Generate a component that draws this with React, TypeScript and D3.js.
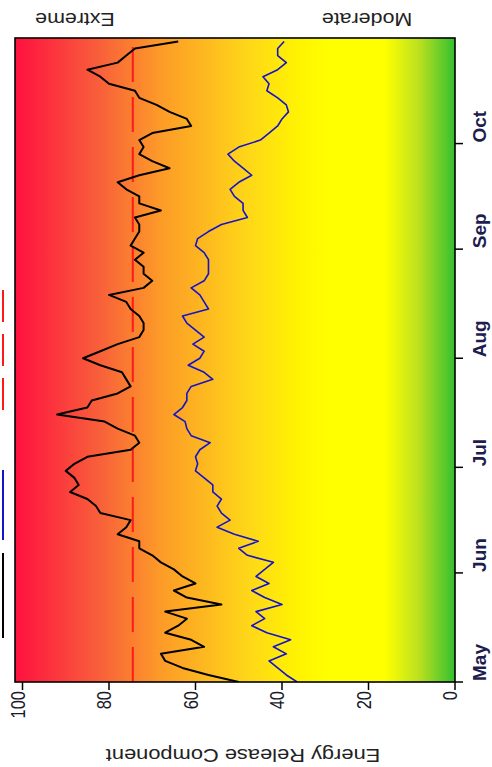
import React from "react";
import * as d3 from "d3";

// ---- data (one value every DAY_STEP days starting May 1) ----
const DAY_STEP = 2;
const currentERC: number[] = [
  50, 57, 63, 67, 68, 58, 61, 67, 64, 62, 67,
  54, 62, 65, 60, 63, 65, 68, 70, 73, 73,
  78, 76, 75, 82, 83, 85, 89, 87, 88, 90,
  88, 85, 75, 73, 74, 78, 81, 92, 85, 84,
  78, 75, 76, 77, 82, 86, 82, 78, 73, 72,
  72, 73, 75, 76, 80, 72, 70, 72, 72, 74,
  72, 75, 74, 73, 73, 74, 68, 73, 73, 76,
  78, 73, 66, 70, 73, 72, 73, 70, 61, 62,
  66, 69, 73, 74, 80, 82, 85, 78, 76, 74, 64,
];
const averageERC: number[] = [
  36.5, 39, 41, 43, 39, 42, 38, 43.5, 47, 44, 46,
  40, 44, 47, 43, 46, 44, 42, 48, 50, 45.5,
  51, 55, 52, 54, 55, 54, 56, 56, 58, 60,
  59.5, 60, 59, 56.6, 61, 62, 62.4, 65, 63, 62,
  62, 61, 56, 58, 61.7, 59, 58, 60.6, 58, 60,
  62, 63, 57, 58, 59, 61, 58, 57, 57, 57,
  58, 60, 59.5, 57, 54, 48, 49, 49, 51, 52,
  50, 47, 49, 51, 52.5, 50, 45, 43, 41, 40,
  38.5, 39, 41, 43.5, 43, 44.4, 41, 39, 41, 41, 39.5,
];
const thresholdERC = 74.5;
const monthLabels = ["May", "Jun", "Jul", "Aug", "Sep", "Oct"];
const monthIndex = [4, 5, 6, 7, 8, 9];
const ercTicks = [0, 20, 40, 60, 80, 100];
const YEAR = 2000;

const DAY = 86400000;
const start = new Date(Date.UTC(YEAR, 4, 1));
const end = new Date(Date.UTC(YEAR, 9, 31));

export default function App() {
  // rotated chart: dates run bottom->top, ERC runs right(0)->left(100)
  const plot = { left: 15, right: 455, top: 38, bottom: 682 };
  const y = d3.scaleUtc().domain([start, end]).range([plot.bottom, plot.top]);
  const x = d3.scaleLinear().domain([0, 100]).range([455, 22.5]);

  const toPts = (arr: number[]) =>
    arr.map((v, i) => ({ date: new Date(start.getTime() + i * DAY_STEP * DAY), v }));
  const line = d3
    .line<{ date: Date; v: number }>()
    .x((d) => x(d.v))
    .y((d) => y(d.date));

  const stops: [number, string][] = [
    [15, "#ff1040"],
    [100, "#f8603a"],
    [160, "#fd9a28"],
    [200, "#fdb520"],
    [250, "#ffd818"],
    [300, "#fff400"],
    [330, "#ffff00"],
    [385, "#ffff00"],
    [420, "#b8e020"],
    [455, "#33c030"],
  ];
  const textFont = "'Liberation Sans', Arial, sans-serif";
  const tx = x(thresholdERC);

  return (
    <svg width={492} height={767} style={{ position: "absolute", left: 0, top: 0 }}>
      <defs>
        <linearGradient id="bg" gradientUnits="userSpaceOnUse" x1={plot.left} x2={plot.right} y1={0} y2={0}>
          {stops.map(([px, c], i) => (
            <stop key={i} offset={(px - plot.left) / (plot.right - plot.left)} stopColor={c} />
          ))}
        </linearGradient>
        <clipPath id="clip">
          <rect x={plot.left} y={plot.top} width={plot.right - plot.left} height={plot.bottom - plot.top} />
        </clipPath>
      </defs>
      <rect x={0} y={0} width={492} height={767} fill="#fff" />
      <rect x={plot.left} y={plot.top} width={plot.right - plot.left} height={plot.bottom - plot.top} fill="url(#bg)" />

      <g clipPath="url(#clip)">
        <line x1={tx} x2={tx} y1={plot.bottom} y2={plot.top} stroke="#ff1a1a" strokeWidth={2} strokeDasharray="35 15" />
        <path d={line(toPts(averageERC)) || ""} fill="none" stroke="#1414c8" strokeWidth={1.6} strokeLinejoin="round" />
        <path d={line(toPts(currentERC)) || ""} fill="none" stroke="#000" strokeWidth={2} strokeLinejoin="round" />
      </g>

      <rect x={plot.left} y={plot.top} width={plot.right - plot.left} height={plot.bottom - plot.top} fill="none" stroke="#000" strokeWidth={1.6} />

      {/* ERC axis (bottom) */}
      {ercTicks.map((t) => (
        <g key={t}>
          <line x1={x(t)} x2={x(t)} y1={plot.bottom} y2={plot.bottom + 8} stroke="#000" strokeWidth={1.5} />
          <text
            transform={`translate(${x(t) + 2},${plot.bottom + 9}) scale(1.2,1) rotate(-90)`}
            textAnchor="end"
            fontFamily={textFont}
            fontSize={16.5}
            fill="#1a1a2a"
          >
            {t}
          </text>
        </g>
      ))}
      <text
        transform="translate(243,749) scale(1.15,1) rotate(180)"
        textAnchor="middle"
        fontFamily={textFont}
        fontSize={19}
        fill="#222"
      >
        Energy Release Component
      </text>

      {/* date axis (right) */}
      {monthLabels.map((m, i) => {
        const d = new Date(Date.UTC(YEAR, monthIndex[i], 1));
        const yy = y(d);
        return (
          <g key={m}>
            <line x1={plot.right} x2={plot.right + 8} y1={yy} y2={yy} stroke="#000" strokeWidth={1.5} />
            <text
              transform={`translate(486,${yy - 1}) rotate(-90)`}
              textAnchor="start"
              fontFamily={textFont}
              fontSize={19}
              fontWeight="bold"
              fill="#1d1d4f"
            >
              {m}
            </text>
          </g>
        );
      })}

      {/* zone labels */}
      <text transform="translate(75,13) scale(1.19,1) rotate(180)" textAnchor="middle" fontFamily={textFont} fontSize={18} fill="#222">
        Extreme
      </text>
      <text transform="translate(367,13) scale(1.19,1) rotate(180)" textAnchor="middle" fontFamily={textFont} fontSize={18} fill="#222">
        Moderate
      </text>

      {/* clipped legend remnants at left edge */}
      <line x1={3} x2={3} y1={553} y2={638} stroke="#000" strokeWidth={2} />
      <line x1={3} x2={3} y1={470} y2={540} stroke="#1414c8" strokeWidth={2} />
      <line x1={3} x2={3} y1={290} y2={418} stroke="#ff1a1a" strokeWidth={2} strokeDasharray="32 12" />
    </svg>
  );
}
